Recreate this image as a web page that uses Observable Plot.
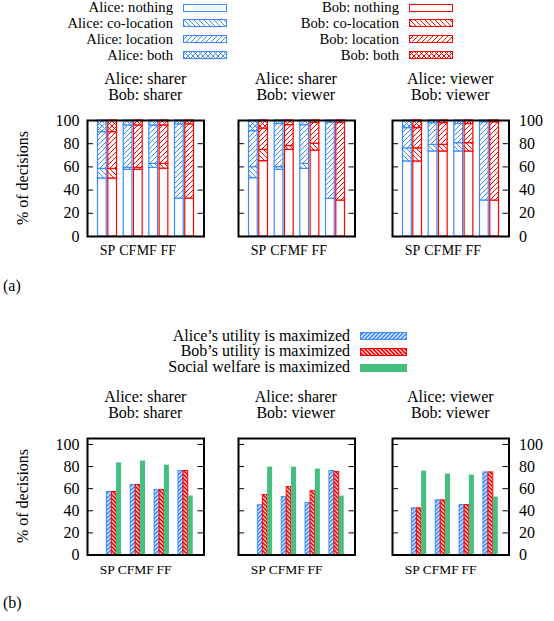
<!DOCTYPE html>
<html><head><meta charset="utf-8">
<script src="https://cdn.jsdelivr.net/npm/d3@7"></script>
<script src="https://cdn.jsdelivr.net/npm/@observablehq/plot@0.6"></script>
<style>
body{margin:0;background:white;}
#root{position:relative;width:554px;height:621px;font-family:"Liberation Serif","DejaVu Serif","Times New Roman",serif;color:#000;overflow:hidden;background:white;}
.t{position:absolute;white-space:nowrap;}
.panel{position:absolute;}
</style></head><body><div id="root"></div>
<script>
// ---------- data ----------
const categories = ["SP", "CF", "MF", "FF"];
const decisions = ["nothing", "co-location", "location", "both"];
const panelTitles = [["Alice: sharer", "Bob: sharer"], ["Alice: sharer", "Bob: viewer"], ["Alice: viewer", "Bob: viewer"]];
// (a) per panel, per category: [nothing, co-location, location, both] (% of decisions)
const aliceA = [
  [[50, 8.3, 31.7, 10], [57.5, 1.7, 36.5, 4.3], [59.2, 3.4, 33.1, 4.3], [32.6, 0, 64.1, 3.3]],
  [[50.3, 9.5, 31, 9.2], [57.5, 2.3, 37.2, 3], [58.3, 4.3, 33.4, 4], [32.5, 0, 65.5, 2]],
  [[64.7, 11.3, 17.4, 6.6], [73.3, 5.7, 18.7, 2.3], [73.3, 7.2, 16.5, 3], [31, 0, 67.5, 1.5]]
];
const bobA = [
  [[50, 8.3, 31.7, 10], [57.5, 1.7, 36.5, 4.3], [58.5, 4.1, 33.1, 4.3], [32.6, 0, 64.1, 3.3]],
  [[65, 9.7, 18.3, 7], [74.7, 3.3, 18, 4], [74.1, 5.9, 18, 2], [31, 0, 67, 2]],
  [[64.7, 11.3, 17.4, 6.6], [73.3, 5.7, 18.7, 2.3], [73.3, 7.2, 16.5, 3], [31, 0, 67.5, 1.5]]
];
// (b) per panel, per category (% of decisions)
const aliceB = [[57, 63.3, 58.7, 76], [45, 52.4, 47, 76], [42.2, 49.4, 45.2, 74.7]];
const bobB = [[57, 63.3, 58.7, 76], [54.2, 61.4, 57.8, 75], [42.2, 49.4, 45.2, 74.7]];
const welfareB = [[83.4, 85, 81.3, 53.3], [79.5, 79.5, 77.7, 53.3], [75.9, 73.2, 72.3, 52.4]];
const yTicks = [0, 20, 40, 60, 80, 100];
const tickPosA = [0, 0.79, 1.53, 2.37];
const tickPosB = [-0.29, 0.49, 1.25, 2.09];
const legendA = decisions;
const legendB = ["Alice’s utility is maximized", "Bob’s utility is maximized", "Social welfare is maximized"];

// ---------- styles / layout ----------
const COLORS = {Alice: "#3d8bfd", Bob: "#ff0000", welfare: "#44bf7f"};
const FONT = "'Liberation Serif','DejaVu Serif','Times New Roman',serif";
const frameLefts = [87, 237.5, 392];
const frameW = 116.5;
const frames = {a: {top: 119.5, h: 116, yDom: [0, 100], xDom: [-0.78, 3.76], ticks: tickPosA, fs: 14},
                b: {top: 437.5, h: 116.5, yDom: [0, 105.4], xDom: [-1.12, 3.76], ticks: tickPosB, fs: 13.5}};

const root = document.getElementById("root");

// patterns
const defs = d3.select(root).append("svg").attr("width", 0).attr("height", 0)
  .style("position", "absolute").append("defs");
function addPattern(id, color, kinds, s, sw) {
  const p = defs.append("pattern").attr("id", id).attr("patternUnits", "userSpaceOnUse")
    .attr("width", s).attr("height", s);
  p.append("rect").attr("width", s).attr("height", s).attr("fill", "white");
  if (kinds.includes("/")) p.append("path")
    .attr("d", `M-1,1 L1,-1 M0,${s} L${s},0 M${s - 1},${s + 1} L${s + 1},${s - 1}`)
    .attr("stroke", color).attr("stroke-width", sw).attr("fill", "none");
  if (kinds.includes("\\")) p.append("path")
    .attr("d", `M-1,${s - 1} L1,${s + 1} M0,0 L${s},${s} M${s - 1},-1 L${s + 1},1`)
    .attr("stroke", color).attr("stroke-width", sw).attr("fill", "none");
}
for (const who of ["Alice", "Bob"]) {
  addPattern(`pA-${who}-co-location`, COLORS[who], "\\", 5, 1);
  addPattern(`pA-${who}-location`, COLORS[who], "/", 5, 1);
  addPattern(`pA-${who}-both`, COLORS[who], "/\\", 5, 1);
}
addPattern("pB-Alice", COLORS.Alice, "/", 4, 1.7);
addPattern("pB-Bob", COLORS.Bob, "\\", 4, 1.7);
const fillA = (who, dec) => dec === "nothing" ? "white" : `url(#pA-${who}-${dec})`;

function addText(txt, x, baseline, align, fs = 16) {
  const d = document.createElement("div");
  d.className = "t";
  d.textContent = txt;
  const top = baseline - 0.8375 * fs;
  let css = `top:${top}px;font-size:${fs}px;line-height:${fs}px;`;
  if (align === "right") css += `right:${554 - x}px;text-align:right;`;
  else if (align === "center") css += `left:${x}px;transform:translateX(-50%);`;
  else css += `left:${x}px;`;
  d.style.cssText = css;
  root.appendChild(d);
  return d;
}
function addSwatch(x, y, w, h, fill, stroke) {
  const d = document.createElement("div");
  d.style.cssText = `position:absolute;left:${x}px;top:${y}px;width:${w}px;height:${h}px;`;
  d.innerHTML = `<svg width="${w}" height="${h}" style="display:block"><rect x="0.5" y="0.5" width="${w - 1}" height="${h - 1}" fill="${fill}" stroke="${stroke}" stroke-width="1"/></svg>`;
  root.appendChild(d);
}

function makePanel(part, p) {
  const F = frames[part];
  const isFirst = p === 0, isLast = p === 2;
  const mL = isFirst ? 40 : 8, mR = isLast ? 45 : 8, mT = 4, mB = 30;
  const W = mL + frameW + mR, H = mT + F.h + mB;
  const marks = [];
  if (part === "a") {
    const rows = [];
    categories.forEach((c, i) => {
      [["Alice", aliceA[p][i]], ["Bob", bobA[p][i]]].forEach(([who, vals]) => {
        let acc = 0;
        vals.forEach((v, k) => {
          if (v > 0) rows.push({who, i, decision: decisions[k], y1: acc, y2: acc + v});
          acc += v;
        });
      });
    });
    marks.push(Plot.rectY(rows, {
      x1: d => d.who === "Alice" ? d.i - 0.37 : d.i + 0.03,
      x2: d => d.who === "Alice" ? d.i - 0.03 : d.i + 0.37,
      y1: "y1", y2: "y2",
      fill: d => fillA(d.who, d.decision),
      stroke: d => COLORS[d.who], strokeWidth: 1.2
    }));
  } else {
    const rows = [];
    categories.forEach((c, i) => {
      rows.push({kind: "Alice", i, v: aliceB[p][i]});
      rows.push({kind: "Bob", i, v: bobB[p][i]});
      rows.push({kind: "welfare", i, v: welfareB[p][i]});
    });
    const off = {Alice: [-0.31, -0.1], Bob: [-0.1, 0.1], welfare: [0.1, 0.31]};
    marks.push(Plot.rectY(rows, {
      x1: d => d.i + off[d.kind][0], x2: d => d.i + off[d.kind][1],
      y1: 0, y2: "v",
      fill: d => d.kind === "welfare" ? COLORS.welfare : `url(#pB-${d.kind})`,
      stroke: d => d.kind === "welfare" ? "none" : COLORS[d.kind],
      strokeWidth: 1
    }));
  }
  const yt = yTicks.filter(t => t > 0);
  marks.push(Plot.ruleY(yt, {insetRight: frameW - 6, stroke: "black", strokeWidth: 1}));
  marks.push(Plot.ruleY(yt, {insetLeft: frameW - 6, stroke: "black", strokeWidth: 1}));
  if (isFirst) marks.push(Plot.axisY({anchor: "left", ticks: yTicks, tickSize: 0, tickPadding: 8, label: null, tickFormat: d => String(d), fontSize: 16}));
  if (isLast) marks.push(Plot.axisY({anchor: "right", ticks: yTicks, tickSize: 0, tickPadding: 10, label: null, tickFormat: d => String(d), fontSize: 16}));
  const labelAt = new Map(F.ticks.map((t, i) => [t, categories[i]]));
  marks.push(Plot.axisX({anchor: "bottom", ticks: F.ticks, tickFormat: d => labelAt.get(d), tickSize: 0, tickPadding: 9, label: null, fontSize: F.fs}));
  marks.push(Plot.frame({stroke: "black", strokeWidth: 2}));
  const svg = Plot.plot({
    width: W, height: H, marginLeft: mL, marginRight: mR, marginTop: mT, marginBottom: mB,
    x: {domain: F.xDom},
    y: {domain: F.yDom, axis: (isFirst || isLast) ? undefined : null},
    color: {type: "identity"},
    style: {fontFamily: FONT, fontSize: "16px", color: "black", background: "transparent", overflow: "visible"},
    marks
  });
  const wrap = document.createElement("div");
  wrap.className = "panel";
  wrap.style.left = (frameLefts[p] - mL) + "px";
  wrap.style.top = (F.top - mT) + "px";
  wrap.style.width = W + "px";
  wrap.appendChild(svg);
  root.appendChild(wrap);
  // titles
  const cx = frameLefts[p] + frameW / 2;
  const b0 = part === "a" ? 84 : 402;
  addText(panelTitles[p][0], cx, b0, "center");
  addText(panelTitles[p][1], cx, b0 + 16, "center");
}

for (const part of ["a", "b"]) for (let p = 0; p < 3; p++) makePanel(part, p);

// y labels
for (const part of ["a", "b"]) {
  const F = frames[part];
  const d = document.createElement("div");
  d.className = "t";
  d.textContent = "% of decisions";
  d.style.cssText = `left:22.5px;top:${F.top + F.h / 2}px;transform:translate(-50%,-50%) rotate(-90deg);font-size:16px;line-height:16px;`;
  root.appendChild(d);
}

// legend (a)
legendA.forEach((dec, k) => {
  const base = 12.8 + k * 15.8;
  addText(`Alice: ${dec}`, 173, base, "right", 14.7);
  addSwatch(183, base - 9.3, 44, 8, fillA("Alice", dec), COLORS.Alice);
  addText(`Bob: ${dec}`, 399, base, "right", 14.7);
  addSwatch(409, base - 9.3, 44, 8, fillA("Bob", dec), COLORS.Bob);
});
// legend (b)
const legBFill = [["url(#pB-Alice)", COLORS.Alice], ["url(#pB-Bob)", COLORS.Bob], [COLORS.welfare, COLORS.welfare]];
legendB.forEach((lab, k) => {
  const base = 341 + k * 15.8;
  addText(lab, 350, base, "right", 16);
  addSwatch(360, base - 9, 47, 8, legBFill[k][0], legBFill[k][1]);
});
addText("(a)", 3, 291, "left");
addText("(b)", 3, 608, "left");
</script></body></html>
